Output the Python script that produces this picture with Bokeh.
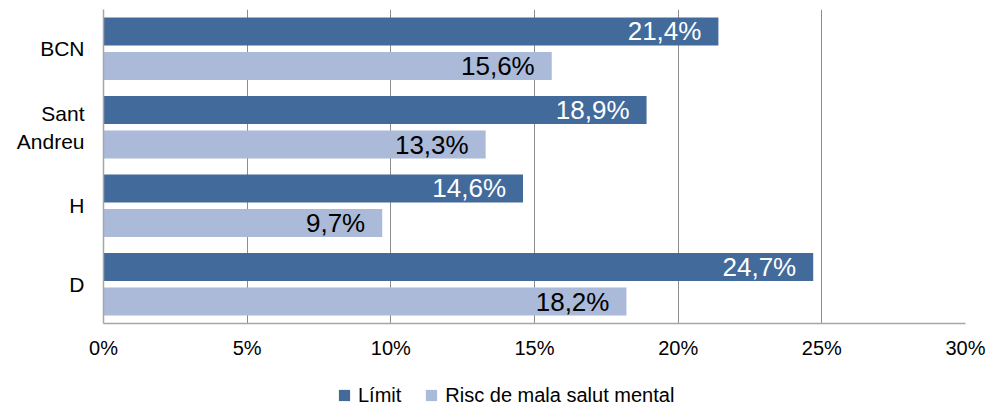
from bokeh.plotting import figure
from bokeh.layouts import column
from bokeh.models import ColumnDataSource, Range1d, FixedTicker, Legend, LegendItem, PrintfTickFormatter
from bokeh.core.properties import value
from bokeh.embed import file_html
from bokeh.resources import INLINE

categories = ["BCN", "Sant Andreu", "H", "D"]
category_labels = ["BCN", "Sant\nAndreu", "H", "D"]
limit = [21.4, 18.9, 14.6, 24.7]
risc = [15.6, 13.3, 9.7, 18.2]
series_names = ["Límit", "Risc de mala salut mental"]
series_colors = ["#426A9B", "#AABAD8"]
x_ticks = [0, 5, 10, 15, 20, 25, 30]

FONT = "Liberation Sans"

def fmt(v):
    return f"{v:.1f}".replace(".", ",") + "%"

n = len(categories)
src_l = ColumnDataSource(dict(
    y=[i + 0.5 - 0.22 for i in range(n)], right=limit, label=[fmt(v) for v in limit]))
src_r = ColumnDataSource(dict(
    y=[i + 0.5 + 0.22 for i in range(n)], right=risc, label=[fmt(v) for v in risc]))

p = figure(width=1000, height=365, x_range=Range1d(0, 30), y_range=Range1d(n, 0),
           output_backend="svg", toolbar_location=None,
           min_border_left=103, min_border_right=35, min_border_top=9, min_border_bottom=42)
p.outline_line_color = None
p.background_fill_color = "white"

p.hbar(y="y", right="right", left=0, height=0.355, source=src_l,
       fill_color=series_colors[0], line_color=None)
p.hbar(y="y", right="right", left=0, height=0.355, source=src_r,
       fill_color=series_colors[1], line_color=None)

p.text(x="right", y="y", text="label", source=src_l, x_offset=-17,
       text_align="right", text_baseline="middle", text_color="white",
       text_font=value(FONT), text_font_size="26px")
p.text(x="right", y="y", text="label", source=src_r, x_offset=-17,
       text_align="right", text_baseline="middle", text_color="black",
       text_font=value(FONT), text_font_size="26px")

# x axis
p.xaxis.ticker = FixedTicker(ticks=x_ticks)
p.xaxis.formatter = PrintfTickFormatter(format="%d%%")
p.xaxis.major_tick_out = 0
p.xaxis.major_tick_in = 0
p.xaxis.minor_tick_out = 0
p.xaxis.minor_tick_in = 0
p.xaxis.axis_line_color = "#A6A6A6"
p.xaxis.axis_line_width = 1.5
p.xaxis.major_label_standoff = 13
p.xaxis.major_label_text_font = FONT
p.xaxis.major_label_text_font_size = "20px"
p.xaxis.major_label_text_color = "black"

# y axis
yt = [i + 0.5 for i in range(n)]
p.yaxis.ticker = FixedTicker(ticks=yt)
p.yaxis.major_label_overrides = {t: lab for t, lab in zip(yt, category_labels)}
p.yaxis.major_tick_out = 0
p.yaxis.major_tick_in = 0
p.yaxis.minor_tick_out = 0
p.yaxis.minor_tick_in = 0
p.yaxis.axis_line_color = "#A6A6A6"
p.yaxis.axis_line_width = 1.5
p.yaxis.major_label_standoff = 19
p.yaxis.major_label_text_font = FONT
p.yaxis.major_label_text_font_size = "21px"
p.yaxis.major_label_text_color = "black"
p.yaxis.major_label_text_align = "right"

p.xgrid.ticker = FixedTicker(ticks=x_ticks)
p.xgrid.grid_line_color = "#8C8C8C"
p.xgrid.grid_line_width = 1
p.ygrid.grid_line_color = None

# legend strip (frame is aligned with the main plot's frame by the column layout)
pl = figure(width=1000, height=40, x_range=Range1d(0, 1), y_range=Range1d(0, 1),
            output_backend="svg", toolbar_location=None,
            min_border_left=0, min_border_right=0, min_border_top=0, min_border_bottom=0)
pl.axis.visible = False
pl.grid.visible = False
pl.outline_line_color = None
d1 = pl.scatter(x=[-5], y=[-5], marker="square", size=12,
                fill_color=series_colors[0], line_color=None)
d2 = pl.scatter(x=[-5], y=[-5], marker="square", size=12,
                fill_color=series_colors[1], line_color=None)
legend = Legend(items=[LegendItem(label=series_names[0], renderers=[d1]),
                       LegendItem(label=series_names[1], renderers=[d2])],
                orientation="horizontal", location=(227, -6),
                padding=0, margin=0, spacing=16, label_standoff=0,
                glyph_width=28, glyph_height=32,
                label_text_font=FONT, label_text_font_size="20px",
                label_text_color="black",
                border_line_color=None, background_fill_alpha=0)
pl.add_layout(legend)

layout = column(p, pl, spacing=0)
open("out.html", "w").write(file_html(layout, INLINE))
